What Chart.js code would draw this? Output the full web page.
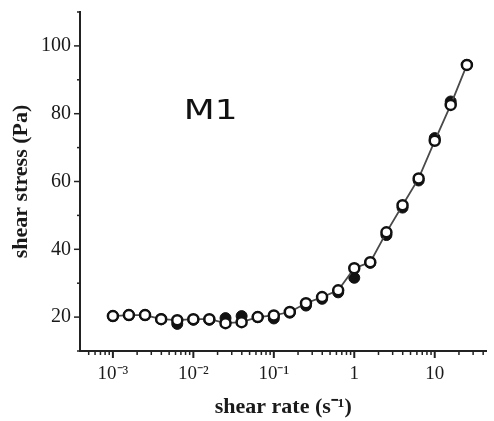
<!DOCTYPE html>
<html>
<head>
<meta charset="utf-8">
<script src="https://cdn.jsdelivr.net/npm/chart.js@4/dist/chart.umd.min.js"></script>
<style>
  html, body { margin: 0; padding: 0; background: #fff; }
  #wrap { width: 494px; height: 421px; }
</style>
</head>
<body>
<div id="wrap"><canvas id="c" width="494" height="421"></canvas></div>
<script>
// shear rate (s^-1), one point every 0.2 decade
const shearRate = [0.001, 0.00158, 0.00251, 0.00398, 0.00631, 0.01, 0.0158, 0.0251, 0.0398, 0.0631,
  0.1, 0.158, 0.251, 0.398, 0.631, 1, 1.58, 2.51, 3.98, 6.31, 10, 15.8, 25.1]
// open symbols
const stressOpen = [20.3, 20.6, 20.6, 19.4, 19.1, 19.4, 19.4, 18.2, 18.5, 20.0,
  20.5, 21.5, 24.1, 25.9, 27.9, 34.4, 36.2, 45.0, 53.0, 60.9, 72.0, 82.6, 94.4]
// filled symbols (mostly hidden behind the open ones)
const stressFilled = [20.3, 20.6, 20.6, 19.4, 18.0, 19.2, 19.2, 19.7, 20.3, 20.0,
  19.6, 21.3, 23.4, 25.4, 27.3, 31.6, 36.0, 44.2, 52.3, 60.3, 72.8, 83.6, 94.4]

const xTickValues = [0.001, 0.01, 0.1, 1, 10]
const xTickLabels = ['10\u207B\u00B3', '10\u207B\u00B2', '10\u207B\u00B9', '1', '10']
const yTickValues = [20, 40, 60, 80, 100]

const serif = "'Liberation Serif', 'Times New Roman', serif"
const ink = '#222'

const isDecade = (v) => Math.abs(Math.log10(v) - Math.round(Math.log10(v))) < 1e-6
const isLogTick = (v) => {
  const m = v / Math.pow(10, Math.floor(Math.log10(v) + 1e-9))
  return Math.abs(m - Math.round(m)) < 1e-6
}

// drop the automatic label padding so the plot area sits where the layout says
const noScalePadding = (scale) => {
  scale.paddingLeft = 0
  scale.paddingRight = 0
  scale.paddingTop = 0
  scale.paddingBottom = 0
}

// tick marks: long for major, short for minor
const tickMarks = {
  id: 'tickMarks',
  afterDraw (chart) {
    const ctx = chart.ctx
    const xs = chart.scales.x
    const ys = chart.scales.y
    ctx.save()
    ctx.strokeStyle = ink
    ctx.lineCap = 'butt'
    xs.ticks.forEach((t) => {
      if (!isLogTick(t.value)) return
      const px = xs.getPixelForValue(t.value)
      const major = isDecade(t.value)
      ctx.lineWidth = major ? 2 : 1.5
      ctx.beginPath()
      ctx.moveTo(px, xs.top)
      ctx.lineTo(px, xs.top + (major ? 7 : 4))
      ctx.stroke()
    })
    ys.ticks.forEach((t) => {
      const py = ys.getPixelForValue(t.value)
      const major = yTickValues.includes(t.value)
      ctx.lineWidth = 1.5
      ctx.beginPath()
      ctx.moveTo(ys.right, py)
      ctx.lineTo(ys.right - (major ? 6 : 3), py)
      ctx.stroke()
    })
    ctx.restore()
  }
}

// "M1" sample label, placed in data coordinates
const sampleLabel = {
  id: 'sampleLabel',
  afterDraw (chart) {
    const ctx = chart.ctx
    const x = chart.scales.x.getPixelForValue(0.0076)
    const y = chart.scales.y.getPixelForValue(78.5)
    ctx.save()
    ctx.fillStyle = '#111'
    ctx.font = "26px 'DejaVu Sans', sans-serif"
    ctx.textBaseline = 'alphabetic'
    ctx.translate(x, y)
    ctx.scale(1.38, 1)
    ctx.fillText('M1', 0, 0)
    ctx.restore()
  }
}

const ctx = document.getElementById('c')
// eslint-disable-next-line no-new
new Chart(ctx, {
  type: 'scatter',
  data: {
    datasets: [
      {
        label: 'open',
        data: shearRate.map((x, i) => ({ x, y: stressOpen[i] })),
        showLine: true,
        borderColor: '#4a4a4a',
        borderWidth: 1.8,
        pointRadius: 5,
        pointBorderWidth: 2.5,
        pointBorderColor: '#111',
        pointBackgroundColor: '#fff'
      },
      {
        label: 'filled',
        data: shearRate.map((x, i) => ({ x, y: stressFilled[i] })),
        showLine: false,
        pointRadius: 5.5,
        pointBorderWidth: 1,
        pointBorderColor: '#111',
        pointBackgroundColor: '#111'
      }
    ]
  },
  options: {
    responsive: false,
    animation: false,
    events: [],
    layout: { padding: { top: 12, right: 2, left: 0, bottom: 0 } },
    plugins: { legend: { display: false }, tooltip: { enabled: false } },
    scales: {
      x: {
        type: 'logarithmic',
        min: 0.00039,
        max: 44,
        afterFit (scale) {
          scale.height = 70
          noScalePadding(scale)
        },
        grid: { display: false, drawTicks: false },
        border: { display: true, color: ink, width: 2 },
        ticks: {
          autoSkip: false,
          maxRotation: 0,
          padding: 12,
          color: '#1a1a1a',
          font: { family: serif, size: 19 },
          callback (v) {
            const i = xTickValues.findIndex((d) => Math.abs(Math.log10(d) - Math.log10(v)) < 1e-6)
            return i >= 0 ? xTickLabels[i] : ''
          }
        },
        title: {
          display: true,
          text: 'shear rate (s\u207B\u00B9)',
          color: '#1a1a1a',
          font: { family: serif, size: 22, weight: 'bold' },
          padding: { top: 0, bottom: 0 }
        }
      },
      y: {
        type: 'linear',
        min: 10,
        max: 110,
        afterFit (scale) {
          scale.width = 80
          noScalePadding(scale)
        },
        grid: { display: false, drawTicks: false },
        border: { display: true, color: ink, width: 2 },
        ticks: {
          stepSize: 10,
          padding: 9,
          color: '#1a1a1a',
          font: { family: serif, size: 20 },
          callback (v) { return yTickValues.includes(v) ? String(v) : '' }
        },
        title: {
          display: true,
          text: 'shear stress (Pa)',
          color: '#1a1a1a',
          font: { family: serif, size: 22, weight: 'bold' },
          padding: { top: 8, bottom: 0 }
        }
      }
    }
  },
  plugins: [tickMarks, sampleLabel]
})
</script>
</body>
</html>
